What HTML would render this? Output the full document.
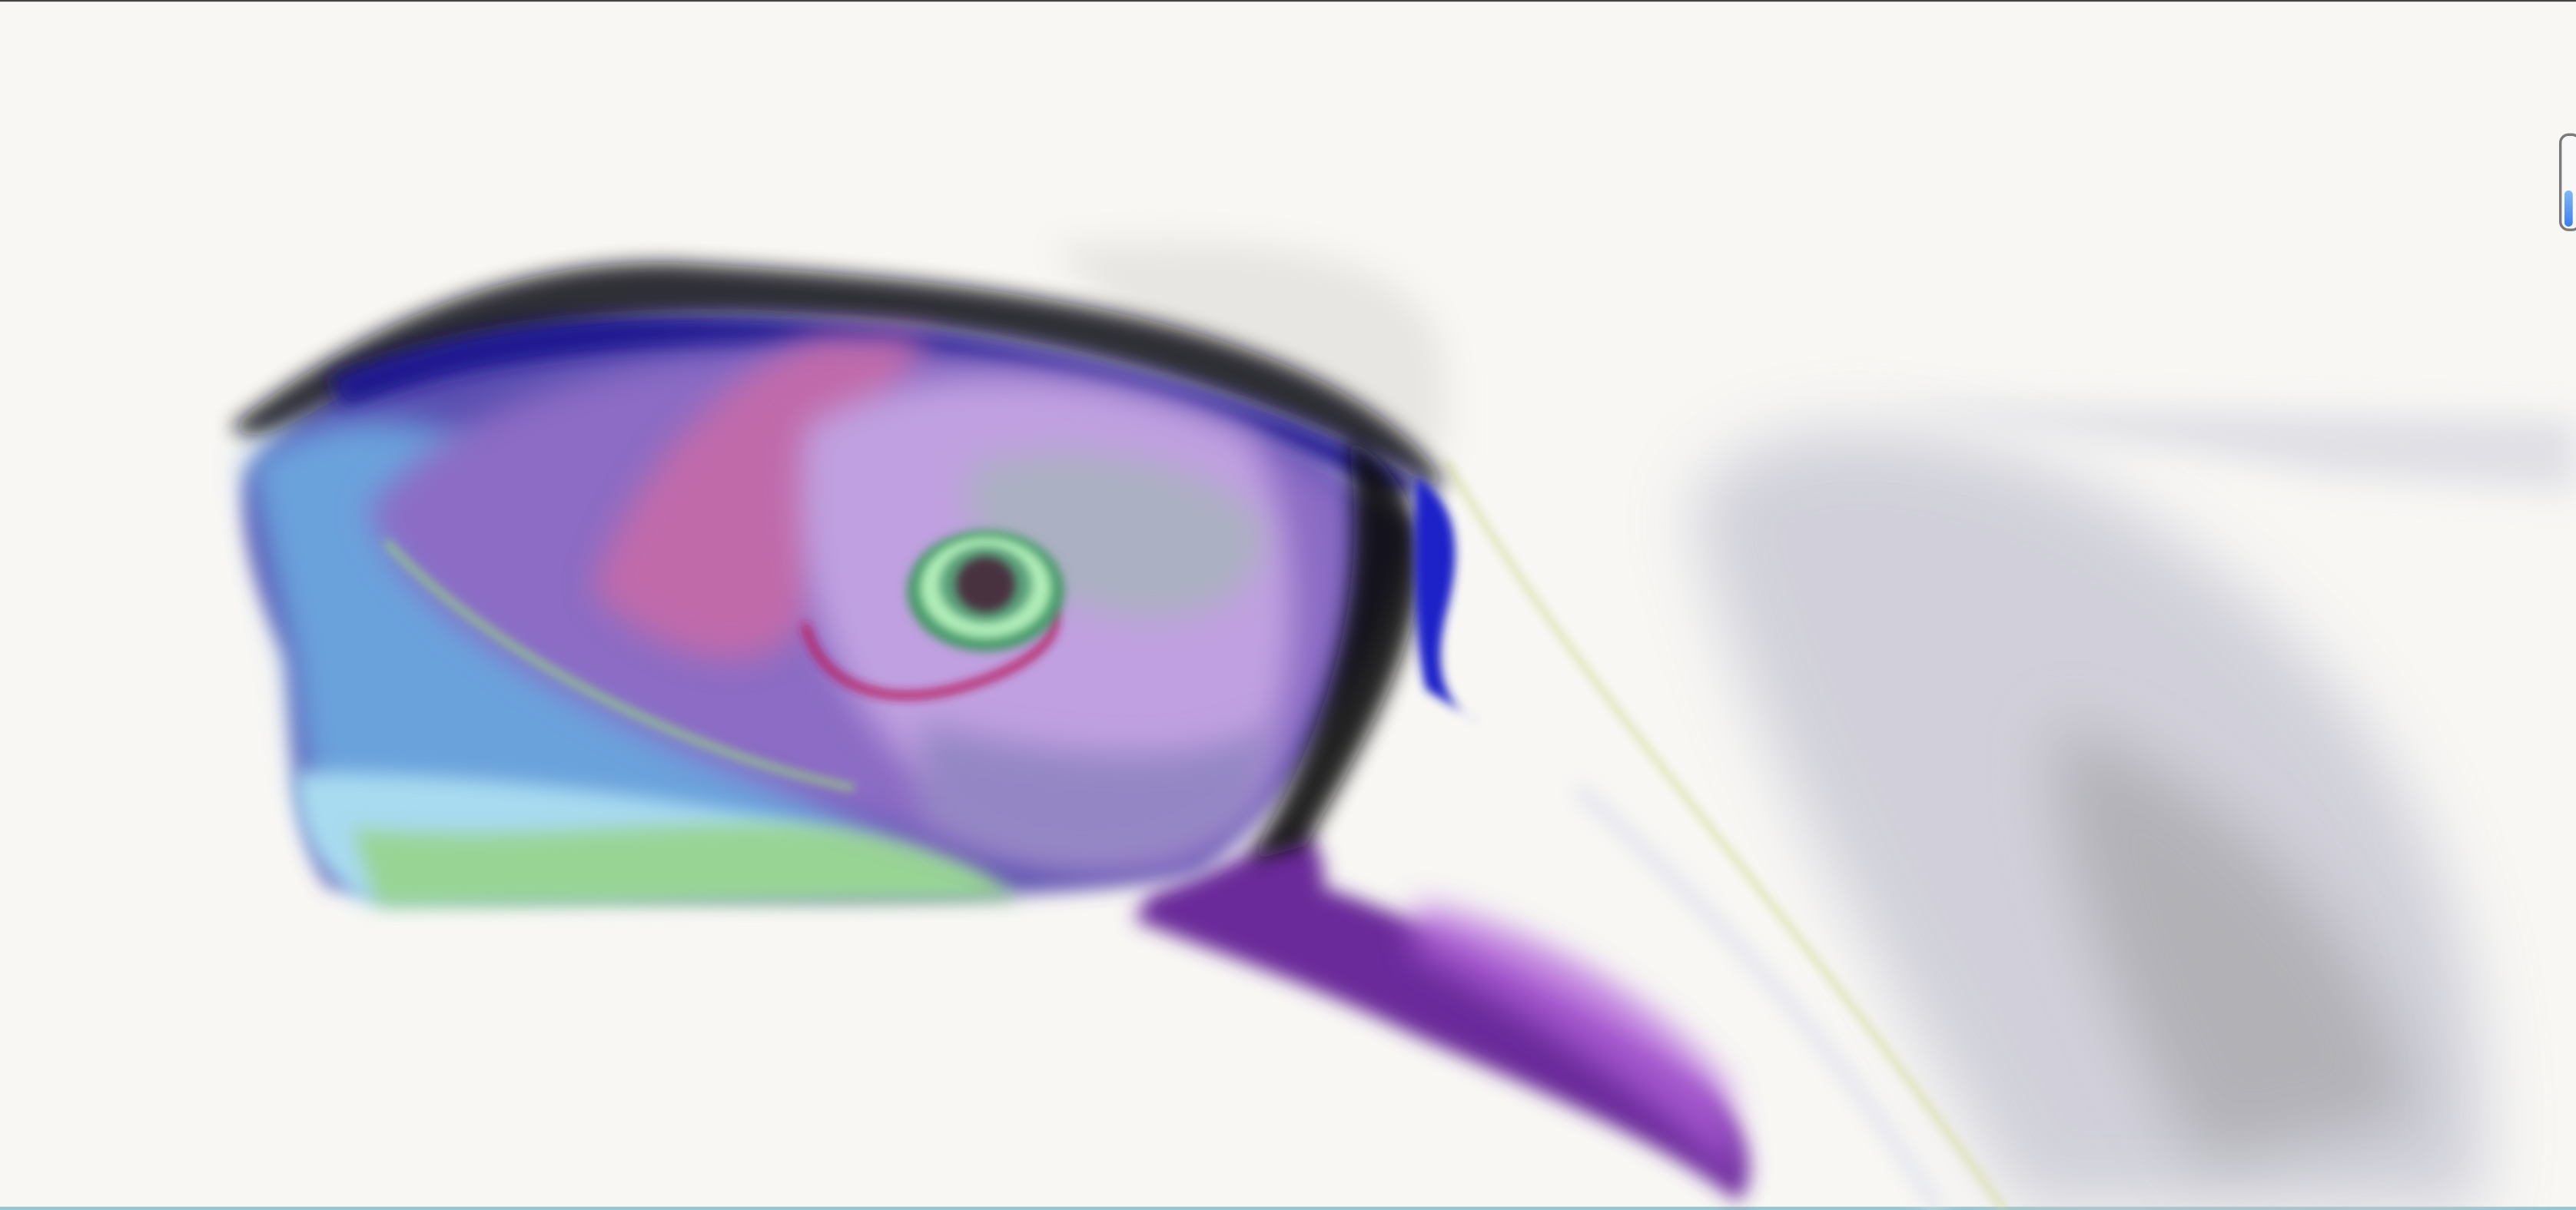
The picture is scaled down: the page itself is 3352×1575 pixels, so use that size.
<!DOCTYPE html>
<html><head><meta charset="utf-8"><style>
html,body{margin:0;padding:0;background:#f8f7f4;overflow:hidden}
svg{display:block}
</style></head><body>
<svg width="3352" height="1575" viewBox="0 0 1568 737" preserveAspectRatio="none" xmlns="http://www.w3.org/2000/svg">
<defs>
<filter id="b20" x="-50%" y="-50%" width="200%" height="200%"><feGaussianBlur stdDeviation="20"/></filter>
<filter id="b10" x="-50%" y="-50%" width="200%" height="200%"><feGaussianBlur stdDeviation="10"/></filter>
<filter id="b6" x="-50%" y="-50%" width="200%" height="200%"><feGaussianBlur stdDeviation="6"/></filter>
<filter id="b3" x="-50%" y="-50%" width="200%" height="200%"><feGaussianBlur stdDeviation="3"/></filter>
<linearGradient id="slider" x1="0" y1="0" x2="0" y2="1"><stop offset="0" stop-color="#7fb8f5"/><stop offset="1" stop-color="#3b7ff0"/></linearGradient>
</defs>
<rect x="0" y="0" width="1568" height="737" fill="#f8f7f4"/>
<rect x="0" y="0" width="1568" height="1" fill="#444"/>
<rect x="0" y="735" width="1568" height="2" fill="#9cc6cc"/>

<g>
<path d="M1150,245 L1568,255 L1568,300 L1420,290 Z" fill="#d0d0dc" opacity="0.6" filter="url(#b10)"/>
<path d="M1030,310 C1050,250 1170,245 1280,300 C1420,380 1530,520 1510,737 L1230,737 C1150,600 1060,450 1030,310 Z" fill="#c4c4d2" opacity="0.75" filter="url(#b20)"/>
<path d="M1250,440 C1330,460 1450,560 1470,680 L1340,710 C1290,620 1250,530 1250,440 Z" fill="#a4a4a8" opacity="0.7" filter="url(#b20)"/>
<path d="M880,280 C960,420 1080,540 1220,737" stroke="#d4dc9a" stroke-width="3" fill="none" filter="url(#b3)"/>
<path d="M960,480 C1050,560 1120,640 1180,737" stroke="#e0e2ec" stroke-width="8" fill="none" filter="url(#b6)"/>
</g>

<g>
<path d="M700,545 C740,530 770,515 790,505 C805,515 808,530 805,540 C865,560 960,605 1040,665 C1068,692 1068,720 1058,732 C1020,700 950,670 860,630 C800,600 740,580 690,560 Z" fill="#6a2a9a" filter="url(#b6)"/>
<path d="M860,550 C920,560 1000,600 1050,660 L1060,720 C1020,680 940,620 860,580 Z" fill="#b060d8" opacity="0.8" filter="url(#b10)"/>
</g>

<g>
<path d="M640,150 C760,140 880,150 880,230 L880,280 C800,260 700,220 640,150 Z" fill="#e8e6e2" filter="url(#b10)"/>
<path d="M150,290 C200,220 300,185 380,195 C520,205 680,225 800,280 L860,320 C840,400 800,470 730,530 C620,555 460,545 300,545 L200,540 C175,500 180,440 175,400 C155,360 145,320 150,290 Z" fill="#5a50b0" filter="url(#b6)"/>
<path d="M140,260 C230,190 320,158 410,160 C560,168 700,182 800,230 C860,260 880,290 880,300 C820,270 720,220 560,200 C420,185 300,195 220,235 C180,255 160,275 140,260 Z" fill="#101018" opacity="0.85" filter="url(#b6)"/>
<path d="M200,230 C300,190 420,185 560,200 C700,220 820,260 870,300 L840,300 C760,260 640,225 500,215 C380,208 280,220 210,250 Z" fill="#1e1890" filter="url(#b6)"/>
<path d="M150,280 C210,240 290,250 330,310 C390,400 470,470 560,520 L210,525 C175,480 185,420 172,380 Z" fill="#6aa2dc" filter="url(#b10)"/>
<path d="M180,470 C260,470 420,480 560,520 L600,540 L220,550 C190,530 178,500 180,470 Z" fill="#a8daf0" filter="url(#b6)"/>
<path d="M215,505 C330,515 420,495 520,505 C580,515 610,535 620,548 L230,552 Z" fill="#98d494" filter="url(#b6)"/>
<path d="M225,310 C280,240 390,210 520,212 C650,215 760,250 820,300 C835,400 800,470 720,530 C620,535 480,490 380,440 C300,400 240,360 225,310 Z" fill="#8c6cc4" filter="url(#b10)"/>
<path d="M235,330 C300,400 420,460 520,480" stroke="#9ae07a" stroke-width="4" fill="none" opacity="0.8" filter="url(#b3)"/>
<path d="M360,360 C380,300 430,230 500,205 L565,205 C535,255 505,305 490,380 C460,420 400,400 360,360 Z" fill="#c66aa8" opacity="0.9" filter="url(#b10)"/>
<path d="M490,260 C560,215 680,225 760,265 C795,320 795,420 760,480 C700,530 620,520 560,470 C500,420 480,340 490,260 Z" fill="#c0a0e0" filter="url(#b10)"/>
<path d="M590,285 C650,265 740,280 770,320 C770,370 720,385 660,370 C615,355 580,320 590,285 Z" fill="#a4b6b8" opacity="0.75" filter="url(#b10)"/>
<path d="M560,440 C640,460 720,470 780,440 L760,500 C700,540 620,540 560,500 Z" fill="#9486c4" filter="url(#b10)"/>
<path d="M820,265 C860,290 875,330 858,385 C845,430 820,470 795,515 L760,525 C810,440 835,360 820,265 Z" fill="#08080f" opacity="0.9" filter="url(#b6)"/>
<path d="M862,290 C885,305 892,330 880,375 C872,410 880,430 900,440 L868,420 C860,390 860,330 862,290 Z" fill="#1a20c8" filter="url(#b3)"/>
<path d="M490,380 C500,420 540,430 580,420 C620,410 650,390 640,370" stroke="#b81a60" stroke-width="5" fill="none" filter="url(#b3)"/>
</g>

<g>
<ellipse cx="600" cy="360" rx="48" ry="37" fill="#4a9a6a" filter="url(#b3)"/>
<ellipse cx="600" cy="358" rx="40" ry="31" fill="#b0ecb8" filter="url(#b3)"/>
<ellipse cx="600" cy="356" rx="28" ry="23" fill="#5aa07a" filter="url(#b3)"/>
<ellipse cx="600" cy="356" rx="18" ry="17" fill="#4a3040" filter="url(#b3)"/>
</g>

<g>
<rect x="1558.5" y="82" width="12" height="58" rx="5" fill="#f8f8f8" stroke="#7a7a7a" stroke-width="1.6"/>
<rect x="1561" y="116" width="5" height="22" rx="2.5" fill="url(#slider)"/>
</g>
</svg>
</body></html>
